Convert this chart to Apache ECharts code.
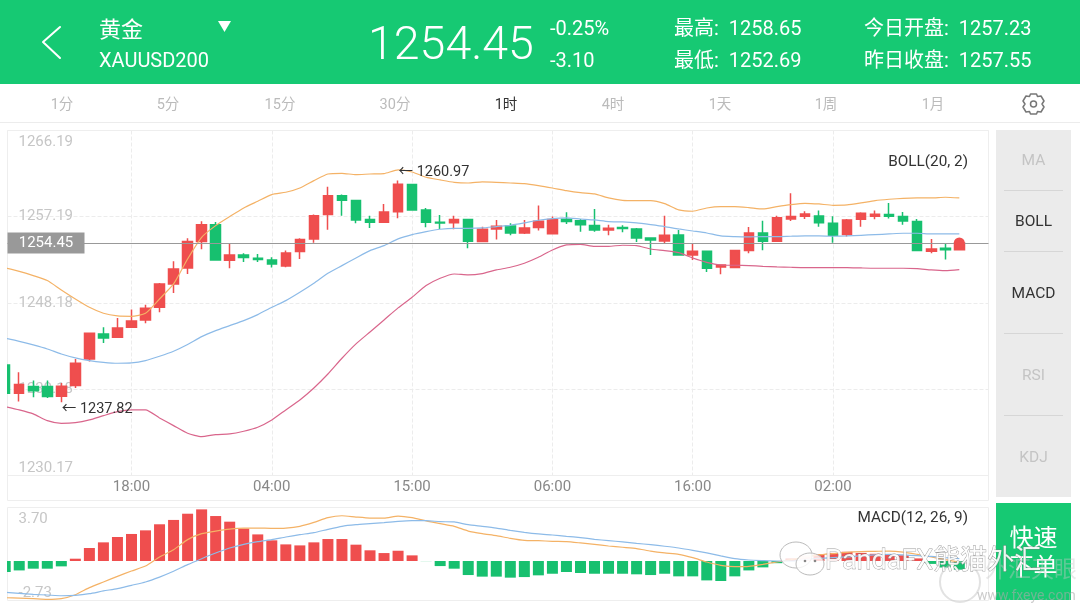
<!DOCTYPE html>
<html>
<head>
<meta charset="utf-8">
<style>
html, body { margin: 0; padding: 0; background: #fff; }
#chart { width: 1080px; height: 608px; }
</style>
<script src="https://cdn.jsdelivr.net/npm/echarts@6/dist/echarts.min.js"></script>
</head>
<body>
<div id="chart"></div>
<script>
// K线数据
var opens = [1241.71,1238.76,1239.45,1239.45,1238.45,1239.56,1242.34,1244.95,1244.6,1245.65,1246.41,1247.73,1250.17,1251.84,1254.59,1256.36,1252.64,1253.2,1252.85,1252.68,1252.05,1253.55,1254.87,1257.41,1259.39,1258.87,1256.89,1256.61,1257.72,1260.54,1257.9,1256.61,1256.57,1256.89,1254.59,1255.91,1256.22,1255.49,1256.05,1255.42,1256.92,1256.78,1256.26,1255.81,1256.05,1255.91,1254.97,1254.66,1255.29,1253.2,1253.58,1251.95,1251.88,1253.65,1255.49,1254.62,1256.95,1257.23,1257.27,1256.5,1255.32,1256.92,1257.23,1257.41,1257.2,1256.68,1253.58,1253.89,1253.75];
var closes = [1238.76,1239.66,1239.03,1238.41,1239.49,1241.89,1245.02,1244.53,1245.58,1246.31,1247.63,1250.17,1251.74,1254.59,1256.36,1252.68,1253.2,1252.92,1252.71,1252.26,1253.41,1254.8,1257.3,1259.39,1258.9,1256.85,1256.61,1257.69,1260.57,1257.9,1256.61,1256.54,1256.89,1254.62,1255.88,1256.19,1255.49,1256.02,1256.71,1256.89,1256.68,1256.36,1255.81,1255.98,1255.95,1254.97,1254.76,1255.25,1253.2,1253.58,1251.81,1252.15,1253.65,1255.49,1254.62,1257.09,1257.2,1257.48,1256.57,1255.25,1256.85,1257.55,1257.44,1257.23,1256.75,1253.65,1253.82,1253.75,1254.45];
var lows = [1238.76,1237.9,1238.34,1238.27,1237.82,1239.31,1242.06,1244.01,1244.53,1245.58,1246.06,1247.21,1249.23,1251.21,1253.79,1252.61,1251.81,1252.47,1252.47,1251.88,1251.91,1252.78,1254.48,1255.84,1257.3,1256.5,1256.02,1256.54,1257.03,1257.83,1256.09,1255.91,1255.88,1253.89,1254.52,1254.8,1255.25,1255.39,1255.74,1255.39,1256.43,1255.63,1255.63,1255.25,1255.56,1254.55,1253.2,1254.45,1253.18,1252.68,1251.42,1251.18,1251.81,1253.37,1253.68,1254.55,1256.75,1256.95,1256.15,1254.48,1255.11,1256.15,1256.92,1256.99,1256.36,1253.58,1253.37,1252.71,1253.7];
var highs = [1241.71,1240.95,1240.08,1240.08,1239.83,1242.34,1245.07,1245.65,1246.62,1247.49,1248.01,1250.27,1252.54,1254.94,1256.71,1256.64,1254.38,1253.37,1253.3,1252.95,1253.65,1254.94,1257.41,1260.33,1259.5,1258.97,1257.3,1258.52,1260.97,1260.61,1258.1,1257.37,1257.3,1256.92,1256.15,1256.85,1256.5,1256.85,1258.35,1257.2,1257.65,1256.95,1258.0,1256.36,1256.29,1256.02,1254.99,1257.3,1255.81,1254.45,1253.6,1252.17,1253.72,1256.12,1256.78,1257.3,1259.63,1257.76,1257.83,1257.23,1256.95,1257.65,1257.83,1258.63,1257.69,1256.95,1254.87,1254.35,1254.45];

// BOLL(20, 2)
var bollUpper = [1251.84,1251.49,1251.04,1250.52,1249.54,1248.6,1247.73,1247.11,1246.83,1246.79,1247.11,1248.6,1250.17,1252.78,1255.04,1256.26,1257.2,1258.1,1258.8,1259.5,1259.74,1260.19,1260.96,1261.65,1261.72,1261.58,1261.65,1261.69,1262.07,1261.86,1261.31,1261.03,1260.78,1260.71,1260.82,1260.78,1260.71,1260.64,1260.44,1260.19,1259.91,1259.7,1259.57,1259.15,1258.9,1258.87,1258.87,1258.56,1257.9,1257.76,1258.1,1258.24,1258.24,1258.14,1258.0,1258.24,1258.45,1258.59,1258.52,1258.38,1258.42,1258.63,1258.87,1259.01,1259.11,1259.15,1259.15,1259.22,1259.15];
var bollMid = [1244.5,1244.18,1243.8,1243.38,1242.86,1242.45,1242.17,1241.99,1241.89,1241.92,1242.17,1242.62,1243.14,1243.84,1244.67,1245.3,1245.82,1246.34,1246.97,1247.73,1248.43,1249.3,1250.24,1251.28,1252.08,1252.88,1253.65,1254.17,1254.87,1255.32,1255.63,1255.88,1255.98,1255.98,1256.02,1256.16,1256.29,1256.54,1256.82,1256.99,1257.06,1256.95,1256.85,1256.68,1256.64,1256.54,1256.36,1256.16,1255.91,1255.7,1255.49,1255.18,1255.11,1255.08,1255.11,1255.11,1255.15,1255.18,1255.18,1255.15,1255.18,1255.25,1255.32,1255.39,1255.46,1255.46,1255.39,1255.39,1255.39];
var bollLower = [1237.36,1237.02,1236.6,1235.9,1235.62,1235.69,1235.97,1236.42,1236.84,1237.02,1237.02,1236.18,1235.38,1234.58,1234.23,1234.44,1234.51,1234.79,1235.21,1235.97,1237.02,1238.06,1239.31,1240.77,1242.41,1243.91,1245.16,1246.41,1247.67,1248.78,1250.0,1250.76,1251.21,1251.11,1251.25,1251.63,1251.91,1252.33,1252.95,1253.72,1254.24,1254.31,1254.1,1254.1,1254.21,1254.17,1253.82,1253.65,1253.44,1252.88,1252.43,1252.15,1252.12,1252.08,1252.01,1251.95,1251.91,1251.88,1251.88,1251.88,1251.88,1251.84,1251.81,1251.81,1251.81,1251.77,1251.63,1251.56,1251.67];

// MACD(12, 26, 9)
var macdBars = [-0.76,-0.65,-0.53,-0.53,-0.37,0.16,0.9,1.29,1.66,1.87,2.12,2.54,2.84,3.27,3.57,3.11,2.72,2.24,1.84,1.43,1.15,1.08,1.29,1.52,1.52,1.13,0.74,0.55,0.71,0.39,-0.02,-0.35,-0.53,-0.97,-1.08,-1.08,-1.15,-1.11,-0.99,-0.88,-0.76,-0.83,-0.88,-0.88,-0.88,-0.92,-0.97,-0.88,-1.06,-1.06,-1.34,-1.38,-1.06,-0.65,-0.44,-0.15,0.18,0.38,0.46,0.56,0.64,0.56,0.5,0.46,0.4,0.18,-0.2,-0.45,-0.6];
var macdDif = [-2.54,-2.56,-2.6,-2.65,-2.6,-2.33,-1.84,-1.45,-1.06,-0.69,-0.35,0.28,0.78,1.48,1.89,2.07,2.21,2.28,2.28,2.26,2.28,2.4,2.67,3.0,3.13,3.04,2.97,2.97,3.11,3.0,2.77,2.58,2.4,2.07,1.89,1.75,1.57,1.43,1.41,1.36,1.34,1.25,1.15,1.04,0.95,0.86,0.69,0.56,0.46,0.23,-0.07,-0.3,-0.39,-0.37,-0.23,-0.07,0.09,0.28,0.42,0.51,0.6,0.65,0.67,0.69,0.62,0.46,0.28,0.09,-0.07];
var macdDea = [-2.17,-2.24,-2.31,-2.35,-2.4,-2.37,-2.26,-2.07,-1.91,-1.68,-1.45,-1.11,-0.71,-0.25,0.16,0.55,0.9,1.15,1.34,1.48,1.66,1.82,1.96,2.19,2.4,2.51,2.58,2.65,2.74,2.79,2.79,2.72,2.7,2.51,2.4,2.28,2.12,1.98,1.87,1.8,1.71,1.62,1.5,1.41,1.32,1.22,1.13,1.02,0.9,0.74,0.56,0.35,0.16,0.07,0.03,0,0,0.09,0.19,0.23,0.28,0.37,0.42,0.46,0.42,0.37,0.32,0.23,0.16];

// 坐标轴
var timeTicks = [9, 19, 29, 39, 49, 59];
var timeLabels = ['18:00', '04:00', '15:00', '06:00', '16:00', '02:00'];
var priceTicks = [1230.17, 1239.18, 1248.18, 1257.19, 1266.19];
var macdTicks = [-2.73, 3.70];

var lastPrice = 1254.45;
var highPoint = [28, 1260.97];
var lowPoint = [4, 1237.82];

var tabs = ['1分', '5分', '15分', '30分', '1时', '4时', '1天', '1周', '1月'];
var indicators = ['MA', 'BOLL', 'MACD', 'RSI', 'KDJ'];

var GREEN = '#16c973';
var RED = '#ef4e4e';
var BAR_GREEN = '#17c06f';
var FONT = 'Roboto, "Noto Sans CJK SC", sans-serif';
var X_MIN = 0.164;
var X_MAX = 70.08;

function txt(x, y, text, size, color, align, weight) {
    return {
        type: 'text',
        x: x,
        y: y + size * 0.08,
        z: 5,
        style: {
            text: text,
            fontSize: size,
            fontFamily: FONT,
            fontWeight: weight || 'normal',
            fill: color,
            align: align || 'left',
            verticalAlign: 'middle'
        }
    };
}

function rect(x, y, w, h, fill, stroke) {
    return {
        type: 'rect',
        z: 1,
        shape: { x: x, y: y, width: w, height: h },
        style: { fill: fill || 'none', stroke: stroke || 'none', lineWidth: 1 }
    };
}

function poly(points, stroke, width, closed) {
    return {
        type: closed ? 'polygon' : 'polyline',
        z: 5,
        shape: { points: points },
        style: { fill: 'none', stroke: stroke, lineWidth: width, lineJoin: 'round', lineCap: 'round' }
    };
}

var tabCenters = [62, 168, 280, 395, 506, 613, 720, 826, 933];
var indicatorY = [160, 221, 293, 375, 457];
var separatorY = [190, 251, 333, 415];

var chrome = [
    rect(0, 0, 1080, 84, GREEN),
    rect(0, 122, 1080, 1, '#ececec'),
    rect(7.5, 130.5, 981, 370, null, '#eeeeee'),
    rect(996, 130, 75, 367, '#ebebeb'),
    rect(996, 503, 75, 97, GREEN),
    poly([[60, 27], [43, 42], [60, 58]], '#fff', 2),
    txt(99, 30, '黄金', 22, '#fff'),
    txt(99, 60, 'XAUUSD200', 20, '#fff'),
    {
        type: 'polygon',
        z: 5,
        shape: { points: [[218, 21], [231, 21], [224.5, 32]] },
        style: { fill: '#fff' }
    },
    txt(368, 44, '1254.45', 46.5, '#fff', 'left', 300),
    txt(550, 28, '-0.25%', 20, '#fff'),
    txt(550, 60, '-3.10', 20, '#fff'),
    txt(674, 28, '最高:  1258.65', 20, '#fff'),
    txt(674, 60, '最低:  1252.69', 20, '#fff'),
    txt(864, 28, '今日开盘:  1257.23', 20, '#fff'),
    txt(864, 60, '昨日收盘:  1257.55', 20, '#fff'),
    txt(968, 161, 'BOLL(20, 2)', 15.3, '#333', 'right'),
    txt(968, 517, 'MACD(12, 26, 9)', 15.3, '#333', 'right'),
    txt(1033.5, 538, '快速', 24, '#fff', 'center'),
    txt(1033.5, 567, '下单', 24, '#fff', 'center')
];

tabs.forEach(function(name, i) {
    chrome.push(txt(tabCenters[i], 104, name, 14.5, name === '1时' ? '#333' : '#bbb', 'center'));
});

indicators.forEach(function(name, i) {
    var on = name === 'BOLL' || name === 'MACD';
    chrome.push(txt(1033.5, indicatorY[i], name, 15.5, on ? '#333' : '#c4c4c4', 'center'));
});

separatorY.forEach(function(y) {
    chrome.push(rect(1004, y, 59, 1, '#d6d6d6'));
});

// 设置图标
var gear = poly([[-3,-10],[3,-10],[4,-7.5],[7.5,-8],[10.5,-3],[8.5,0],[10.5,3],[7.5,8],[4,7.5],[3,10],[-3,10],[-4,7.5],[-7.5,8],[-10.5,3],[-8.5,0],[-10.5,-3],[-7.5,-8],[-4,-7.5]], '#777', 1.5, true);
gear.x = 1033.5;
gear.y = 104;
chrome.push(gear);
chrome.push({
    type: 'circle',
    z: 5,
    shape: { cx: 1033.5, cy: 104, r: 3 },
    style: { fill: 'none', stroke: '#777', lineWidth: 1.5 }
});

// 蜡烛超出左边界的部分用白条盖住
var leftMask = rect(0, 128, 7, 474, '#fff');
leftMask.z = 50;
chrome.push(leftMask);

// 水印
function wm(item) {
    item.z = 100;
    return item;
}
chrome.push(wm({ type: 'circle', shape: { cx: 960, cy: 582, r: 20 }, style: { fill: 'none', stroke: 'rgba(190,190,190,0.45)', lineWidth: 2 } }));
chrome.push(wm({ type: 'text', x: 985, y: 571, style: { text: '外汇天眼', fontSize: 23, fontFamily: FONT, fill: 'rgba(200,200,200,0.4)', verticalAlign: 'middle' } }));
chrome.push(wm({ type: 'text', x: 977, y: 596, style: { text: 'www.fxeye.com', fontSize: 14, fontFamily: FONT, fill: 'rgba(170,170,170,0.6)', verticalAlign: 'middle' } }));
chrome.push(wm({ type: 'ellipse', shape: { cx: 796, cy: 555, rx: 16, ry: 13 }, style: { fill: 'rgba(255,255,255,0.8)', stroke: '#bbb', lineWidth: 1 } }));
chrome.push(wm({ type: 'ellipse', shape: { cx: 810, cy: 564, rx: 14, ry: 11 }, style: { fill: 'rgba(255,255,255,0.8)', stroke: '#bbb', lineWidth: 1 } }));
chrome.push(wm({ type: 'circle', shape: { cx: 805, cy: 561, r: 1.3 }, style: { fill: '#888' } }));
chrome.push(wm({ type: 'circle', shape: { cx: 815, cy: 561, r: 1.3 }, style: { fill: '#888' } }));
chrome.push(wm({ type: 'text', x: 825, y: 562, style: { text: 'PandaFX熊猫外汇', fontSize: 27, fontFamily: FONT, fill: 'rgba(255,255,255,0.9)', stroke: 'rgba(120,120,120,0.75)', lineWidth: 0.8, verticalAlign: 'middle' } }));

var candleData = opens.map(function(o, i) {
    return [i, o, closes[i], lows[i], highs[i]];
});

function indexed(values) {
    return values.map(function(v, i) {
        return [i, v];
    });
}

var barData = macdBars.map(function(v, i) {
    return {
        value: [i, v],
        itemStyle: { color: v >= 0 ? RED : BAR_GREEN, opacity: Math.abs(v) < 0.05 ? 0.4 : 1 }
    };
});

function extremeMark(point, offsetY) {
    return {
        coord: point,
        symbol: 'circle',
        symbolSize: 1,
        itemStyle: { color: 'transparent' },
        label: {
            show: true,
            position: 'right',
            distance: 0,
            offset: [0, offsetY],
            formatter: '← ' + point[1].toFixed(2),
            color: '#333',
            fontSize: 14.5,
            fontFamily: FONT
        }
    };
}

function line(name, values, color, gridIdx) {
    return {
        name: name,
        type: 'line',
        xAxisIndex: gridIdx,
        yAxisIndex: gridIdx,
        data: indexed(values),
        showSymbol: false,
        smooth: 0.2,
        lineStyle: { color: color, width: 1.2 },
        z: 3
    };
}

// 最大值的标签往下挪一点
function tickLabel(ticks) {
    return function(v) {
        if (v === ticks[ticks.length - 1]) {
            return '{top|' + v.toFixed(2) + '}';
        }
        return v.toFixed(2);
    };
}

var topRich = { top: { padding: [4, 0, 0, 0], color: '#c6c6c6', fontSize: 15 } };

var chartOne = echarts.init(document.getElementById('chart'));
var chartOption = {
    animation: false,
    backgroundColor: '#fff',
    textStyle: { fontFamily: FONT },
    graphic: { elements: chrome },
    grid: [
        { left: 7.5, top: 130.5, width: 981, height: 345 },
        { left: 7.5, top: 507.5, width: 981, height: 93, show: true, borderColor: '#eeeeee', borderWidth: 1 }
    ],
    xAxis: [
        {
            type: 'value',
            gridIndex: 0,
            min: X_MIN,
            max: X_MAX,
            axisLine: { onZero: false, lineStyle: { color: '#eeeeee' } },
            axisTick: { show: false, customValues: timeTicks },
            axisLabel: {
                customValues: timeTicks,
                color: '#888',
                fontSize: 15,
                margin: 4,
                lineHeight: 15,
                formatter: function(v) {
                    return timeLabels[timeTicks.indexOf(v)];
                }
            },
            splitLine: { show: true, lineStyle: { color: '#ececec', type: 'dashed' } }
        },
        {
            type: 'value',
            gridIndex: 1,
            min: X_MIN,
            max: X_MAX,
            axisLine: { show: false },
            axisTick: { show: false },
            axisLabel: { show: false },
            splitLine: { show: false }
        }
    ],
    yAxis: [
        {
            type: 'value',
            gridIndex: 0,
            min: 1230.17,
            max: 1266.19,
            axisLine: { show: false },
            axisTick: { show: false, customValues: priceTicks },
            axisLabel: {
                inside: true,
                customValues: priceTicks,
                margin: 11,
                color: '#c6c6c6',
                fontSize: 15,
                verticalAlignMinLabel: 'bottom',
                verticalAlignMaxLabel: 'top',
                rich: topRich,
                formatter: tickLabel(priceTicks)
            },
            splitLine: { show: true, lineStyle: { color: '#ececec', type: 'dashed' } }
        },
        {
            type: 'value',
            gridIndex: 1,
            min: -2.73,
            max: 3.70,
            axisLine: { show: false },
            axisTick: { show: false, customValues: macdTicks },
            axisLabel: {
                inside: true,
                customValues: macdTicks,
                margin: 11,
                color: '#c6c6c6',
                fontSize: 15,
                verticalAlignMinLabel: 'bottom',
                verticalAlignMaxLabel: 'top',
                rich: topRich,
                formatter: tickLabel(macdTicks)
            },
            splitLine: { show: false }
        }
    ],
    series: [
        {
            name: 'K',
            type: 'candlestick',
            xAxisIndex: 0,
            yAxisIndex: 0,
            data: candleData,
            encode: { x: 0, y: [1, 2, 3, 4] },
            barWidth: 10,
            itemStyle: {
                color: RED,
                color0: BAR_GREEN,
                borderColor: RED,
                borderColor0: BAR_GREEN,
                borderWidth: 1.5
            },
            markLine: {
                silent: true,
                symbol: 'none',
                label: { show: false },
                lineStyle: { color: '#999', type: 'solid', width: 1 },
                data: [{ yAxis: lastPrice }]
            },
            markPoint: {
                silent: true,
                data: [
                    {
                        coord: [X_MIN, lastPrice],
                        symbol: 'rect',
                        symbolSize: [77, 21],
                        symbolOffset: [38.5, 0],
                        itemStyle: { color: '#999' },
                        label: {
                            show: true,
                            position: 'inside',
                            formatter: lastPrice.toFixed(2),
                            color: '#fff',
                            fontSize: 15,
                            fontFamily: FONT
                        }
                    },
                    {
                        coord: [68, lastPrice],
                        symbol: 'circle',
                        symbolSize: 11,
                        itemStyle: { color: RED },
                        label: { show: false }
                    },
                    extremeMark(highPoint, -8),
                    extremeMark(lowPoint, 7)
                ]
            }
        },
        line('UP', bollUpper, '#f4b266', 0),
        line('MID', bollMid, '#8dbbe8', 0),
        line('LOW', bollLower, '#d9668c', 0),
        {
            name: 'MACD',
            type: 'bar',
            xAxisIndex: 1,
            yAxisIndex: 1,
            data: barData,
            barWidth: 11
        },
        line('DIF', macdDif, '#f4b266', 1),
        line('DEA', macdDea, '#8dbbe8', 1)
    ]
};
chartOne.setOption(chartOption);
</script>
</body>
</html>
